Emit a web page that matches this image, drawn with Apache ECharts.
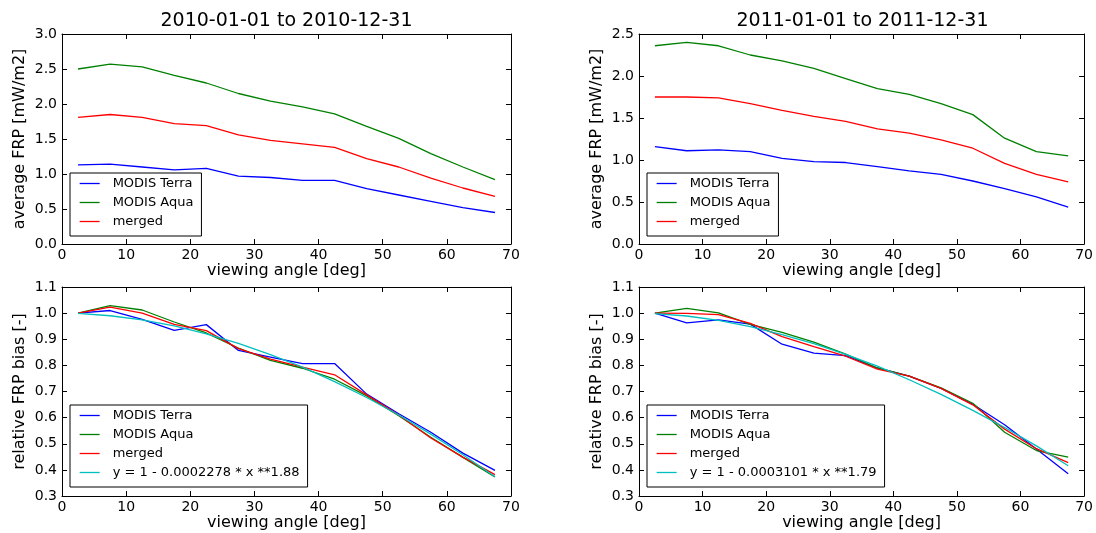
<!DOCTYPE html>
<html>
<head>
<meta charset="utf-8">
<script src="https://cdn.jsdelivr.net/npm/echarts@6/dist/echarts.min.js"></script>
<style>
html,body{margin:0;padding:0;background:#fff;}
#chart{width:1096px;height:533px;}
</style>
</head>
<body>
<div id="chart"></div>
<script>
// ---- data ----
const angles = [2.5, 7.5, 12.5, 17.5, 22.5, 27.5, 32.5, 37.5, 42.5, 47.5, 52.5, 57.5, 62.5, 67.5];
const xTicks = [0, 10, 20, 30, 40, 50, 60, 70];

const titles = ['2010-01-01 to 2010-12-31', '2011-01-01 to 2011-12-31'];
const seriesNames = ['MODIS Terra', 'MODIS Aqua', 'merged'];
const fitNames = ['y = 1 - 0.0002278 * x **1.88', 'y = 1 - 0.0003101 * x **1.79'];

const terra2010  = [1.13, 1.14, 1.10, 1.06, 1.08, 0.97, 0.95, 0.91, 0.91, 0.79, 0.70, 0.61, 0.52, 0.45];
const aqua2010   = [2.50, 2.57, 2.53, 2.41, 2.30, 2.15, 2.04, 1.96, 1.86, 1.68, 1.51, 1.29, 1.10, 0.92];
const merged2010 = [1.81, 1.85, 1.81, 1.72, 1.69, 1.56, 1.48, 1.43, 1.38, 1.22, 1.10, 0.94, 0.80, 0.68];

const terra2011  = [1.16, 1.11, 1.12, 1.10, 1.02, 0.98, 0.97, 0.92, 0.87, 0.83, 0.75, 0.66, 0.56, 0.44];
const aqua2011   = [2.36, 2.40, 2.36, 2.25, 2.18, 2.09, 1.97, 1.85, 1.78, 1.67, 1.54, 1.26, 1.10, 1.05];
const merged2011 = [1.75, 1.75, 1.74, 1.67, 1.59, 1.52, 1.46, 1.37, 1.32, 1.24, 1.14, 0.96, 0.83, 0.74];

const relTerra2010  = [1.000, 1.010, 0.976, 0.934, 0.956, 0.857, 0.832, 0.807, 0.807, 0.690, 0.615, 0.544, 0.464, 0.398];
const relAqua2010   = [1.000, 1.029, 1.012, 0.966, 0.924, 0.866, 0.819, 0.789, 0.747, 0.683, 0.607, 0.525, 0.448, 0.373];
const relMerged2010 = [1.000, 1.023, 1.000, 0.957, 0.933, 0.864, 0.824, 0.793, 0.764, 0.687, 0.610, 0.522, 0.449, 0.382];
const fit2010       = [0.999, 0.990, 0.974, 0.951, 0.921, 0.884, 0.841, 0.793, 0.738, 0.677, 0.610, 0.537, 0.458, 0.374];

const relTerra2011  = [1.000, 0.963, 0.974, 0.958, 0.881, 0.847, 0.837, 0.790, 0.759, 0.712, 0.651, 0.573, 0.480, 0.385];
const relAqua2011   = [1.000, 1.018, 1.001, 0.957, 0.926, 0.889, 0.843, 0.790, 0.759, 0.714, 0.655, 0.544, 0.474, 0.449];
const relMerged2011 = [1.000, 0.999, 0.994, 0.961, 0.910, 0.872, 0.835, 0.786, 0.759, 0.712, 0.649, 0.556, 0.481, 0.428];
const fit2011       = [0.998, 0.989, 0.972, 0.948, 0.918, 0.883, 0.842, 0.797, 0.745, 0.689, 0.628, 0.562, 0.492, 0.416];

// ---- chart ----
const FONT = 'DejaVu Sans';
const COLORS = {terra: '#0000ff', aqua: '#008000', merged: '#ff0000', fit: '#00bfbf'};

const grids = [
  {left: 62, top: 34, width: 449, height: 210},
  {left: 639, top: 34, width: 447, height: 210},
  {left: 62, top: 287, width: 449, height: 209},
  {left: 639, top: 287, width: 447, height: 209}
];
const yRanges = [
  {min: 0, max: 3.0, interval: 0.5, name: 'average FRP [mW/m2]'},
  {min: 0, max: 2.5, interval: 0.5, name: 'average FRP [mW/m2]'},
  {min: 0.3, max: 1.1, interval: 0.1, name: 'relative FRP bias [-]'},
  {min: 0.3, max: 1.1, interval: 0.1, name: 'relative FRP bias [-]'}
];

const axisLine = {show: true, onZero: false, lineStyle: {color: '#000', width: 1}};
const axisTick = {show: true, inside: true, length: 5, lineStyle: {color: '#000', width: 1}};
const labelStyle = {color: '#000', fontFamily: FONT, fontSize: 14};
const nameStyle = {color: '#000', fontFamily: FONT, fontSize: 16};

const xAxes = [], yAxes = [];
grids.forEach((g, i) => {
  xAxes.push({
    type: 'value', gridIndex: i, position: 'bottom',
    min: xTicks[0], max: xTicks[xTicks.length - 1], interval: 10,
    axisLine, axisTick, splitLine: {show: false},
    axisLabel: Object.assign({margin: 4, formatter: v => String(v)}, labelStyle),
    name: 'viewing angle [deg]', nameLocation: 'middle', nameGap: 17, nameTextStyle: nameStyle
  });
  yAxes.push({
    type: 'value', gridIndex: i, position: 'left',
    min: yRanges[i].min, max: yRanges[i].max, interval: yRanges[i].interval,
    axisLine, axisTick, splitLine: {show: false},
    axisLabel: Object.assign({margin: 5, formatter: v => v.toFixed(1)}, labelStyle),
    name: yRanges[i].name, nameLocation: 'middle', nameGap: 34, nameRotate: 90, nameTextStyle: nameStyle
  });
});
grids.forEach((g, i) => {
  xAxes.push({
    type: 'value', gridIndex: i, position: 'top',
    min: xTicks[0], max: xTicks[xTicks.length - 1], interval: 10,
    axisLine, axisTick, splitLine: {show: false}, axisLabel: {show: false}
  });
  yAxes.push({
    type: 'value', gridIndex: i, position: 'right',
    min: yRanges[i].min, max: yRanges[i].max, interval: yRanges[i].interval,
    axisLine, axisTick, splitLine: {show: false}, axisLabel: {show: false}
  });
});

const pairs = ys => angles.map((x, k) => [x, ys[k]]);
function line(name, ys, color, idx) {
  return {
    type: 'line', name, data: pairs(ys), xAxisIndex: idx, yAxisIndex: idx,
    symbol: 'none', showSymbol: false, smooth: false,
    lineStyle: {color, width: 1.3}, itemStyle: {color},
    emphasis: {disabled: true}, animation: false
  };
}

const panels = [
  [terra2010, aqua2010, merged2010, null],
  [terra2011, aqua2011, merged2011, null],
  [relTerra2010, relAqua2010, relMerged2010, fit2010],
  [relTerra2011, relAqua2011, relMerged2011, fit2011]
];

const series = [];
panels.forEach((p, i) => {
  series.push(line(seriesNames[0], p[0], COLORS.terra, i));
  series.push(line(seriesNames[1], p[1], COLORS.aqua, i));
  series.push(line(seriesNames[2], p[2], COLORS.merged, i));
  if (p[3]) series.push(line(fitNames[i - 2], p[3], COLORS.fit, i));
});

function legend(i, names, top) {
  return {
    orient: 'vertical', left: grids[i].left + 8, top,
    data: names, selectedMode: false,
    borderColor: '#000', borderWidth: 1, backgroundColor: '#fff',
    padding: [4, 8, 8, 9], itemGap: 6, itemWidth: 20, itemHeight: 14,
    itemStyle: {opacity: 0},
    lineStyle: {width: 1.3},
    textStyle: {color: '#000', fontFamily: FONT, fontSize: 13, padding: [0, 0, 0, 8]}
  };
}
const legends = [
  legend(0, seriesNames, 173),
  legend(1, seriesNames, 173),
  legend(2, seriesNames.concat([fitNames[0]]), 405),
  legend(3, seriesNames.concat([fitNames[1]]), 405)
];

const graphics = titles.map((t, i) => ({
  type: 'text', x: grids[i].left + grids[i].width / 2, y: 21,
  style: {text: t, fill: '#000', font: '19px "DejaVu Sans"', textAlign: 'center', textVerticalAlign: 'middle'}
}));

const chart = echarts.init(document.getElementById('chart'), null, {renderer: 'canvas'});
chart.setOption({
  backgroundColor: '#fff',
  animation: false,
  textStyle: {fontFamily: FONT},
  grid: grids,
  xAxis: xAxes,
  yAxis: yAxes,
  legend: legends,
  graphic: graphics,
  series
});
</script>
</body>
</html>
